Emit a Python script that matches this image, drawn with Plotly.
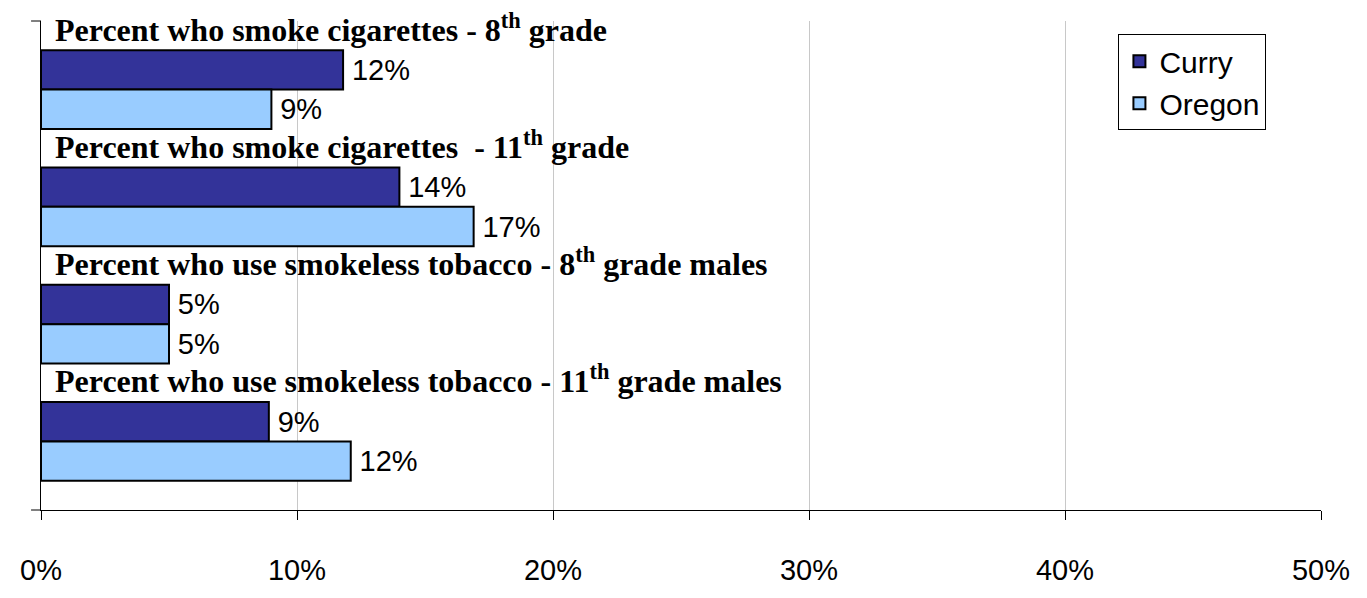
import plotly.graph_objects as go

categories = [
    "Percent who smoke cigarettes - 8<sup>th</sup> grade",
    "Percent who smoke cigarettes  - 11<sup>th</sup> grade",
    "Percent who use smokeless tobacco - 8<sup>th</sup> grade males",
    "Percent who use smokeless tobacco - 11<sup>th</sup> grade males",
]
curry = [11.8, 14.0, 5.0, 8.9]
oregon = [9.0, 16.9, 5.0, 12.1]
x_ticks = [0, 10, 20, 30, 40, 50]
x_tick_labels = ["0%", "10%", "20%", "30%", "40%", "50%"]

cat_idx = list(range(len(categories)))

# page body has an 8px margin; figure sized so plot area matches the reference
W, H = 1359, 590
ML, MR, MT, MB = 24, 46, 13, 59
plot_w = W - ML - MR
plot_h = H - MT - MB

arial = "Arial, Liberation Sans, sans-serif"
serif = "Times New Roman, Liberation Serif, serif"

fig = go.Figure()
fig.add_trace(go.Bar(
    y=cat_idx, x=curry, orientation="h", name="Curry", legendgroup="a",
    marker=dict(color="#333399", line=dict(color="black", width=2)),
    texttemplate="\u2009%{x:.0f}%", textposition="outside",
    textfont=dict(family=arial, size=29, color="black"),
    constraintext="none", cliponaxis=False, hoverinfo="skip",
))
fig.add_trace(go.Bar(
    y=cat_idx, x=oregon, orientation="h", name="Oregon", legendgroup="b",
    marker=dict(color="#99CCFF", line=dict(color="black", width=2)),
    texttemplate="\u2009%{x:.0f}%", textposition="outside",
    textfont=dict(family=arial, size=29, color="black"),
    constraintext="none", cliponaxis=False, hoverinfo="skip",
))

for i, lab in zip(cat_idx, categories):
    fig.add_annotation(
        x=0, y=i, xref="x", yref="y", text="<b>" + lab + "</b>",
        showarrow=False, xanchor="left", yanchor="middle",
        xshift=12, yshift=62,
        font=dict(family=serif, size=32, color="black"),
    )

tick = 10 / plot_w
fig.add_shape(type="line", xref="paper", yref="paper", x0=-tick, x1=0, y0=1, y1=1,
              line=dict(color="black", width=1))
fig.add_shape(type="line", xref="paper", yref="paper", x0=-tick, x1=0, y0=0, y1=0,
              line=dict(color="black", width=1))

fig.update_layout(
    width=W, height=H,
    margin=dict(l=ML, r=MR, t=MT, b=MB, pad=0),
    plot_bgcolor="white", paper_bgcolor="white",
    barmode="group", bargap=0.33, bargroupgap=0,
    font=dict(family=arial, size=29, color="black"),
    showlegend=True,
    legend=dict(
        x=(1117 - 8 - ML) / plot_w, y=1 - (35 - 8 - MT) / plot_h,
        xanchor="left", yanchor="top",
        bgcolor="white", bordercolor="black", borderwidth=1,
        font=dict(family=arial, size=30, color="black"),
        tracegroupgap=6, traceorder="normal",
    ),
    xaxis=dict(
        range=[0, 50], tickvals=x_ticks, ticktext=x_tick_labels,
        showgrid=True, gridcolor="#c8c8c8", gridwidth=1,
        showline=True, linecolor="black", linewidth=1,
        ticks="outside", ticklen=9, tickcolor="black", tickwidth=1,
        zeroline=False, ticklabelstandoff=25,
        tickfont=dict(family=arial, size=29, color="black"),
    ),
    yaxis=dict(
        type="linear", range=[3.585, -0.585],
        showticklabels=False, showgrid=False, zeroline=False,
        showline=True, linecolor="black", linewidth=1, ticks="",
    ),
)

fig.write_html("out.html")
